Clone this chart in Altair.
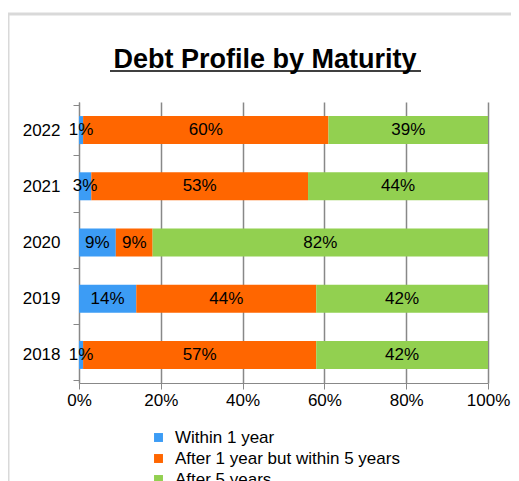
import altair as alt
import pandas as pd

years = ["2022", "2021", "2020", "2019", "2018"]
series = ["Within 1 year", "After 1 year but within 5 years", "After 5 years"]
within1 = [1, 3, 9, 14, 1]
after1to5 = [60, 53, 9, 44, 57]
after5 = [39, 44, 82, 42, 42]
colors = ["#3C9CF5", "#FF6600", "#92D050"]
x_ticks = [0, 20, 40, 60, 80, 100]
title_text = "Debt Profile by Maturity"

rows = []
for i, y in enumerate(years):
    for j, (s, vals) in enumerate(zip(series, [within1, after1to5, after5])):
        rows.append({"year": y, "series": s, "order": j, "value": vals[i]})
df = pd.DataFrame(rows)
df["label"] = df["value"].astype(str) + "%"

FONT = "Liberation Sans"
FS = 17

base = alt.Chart(df)

bars = base.mark_bar(size=28).encode(
    y=alt.Y("year:N", sort=years, title=None,
            axis=alt.Axis(tickBand="extent", labelFontSize=FS, labelColor="#000",
                          labelFont=FONT, domainColor="#888", tickColor="#888",
                          tickSize=6, labelPadding=13, grid=False)),
    x=alt.X("value:Q", stack="normalize", title=None,
            scale=alt.Scale(domain=[0, 1], nice=False),
            axis=alt.Axis(format=".0%", values=[v / 100 for v in x_ticks],
                          labelFontSize=FS, labelColor="#000", labelFont=FONT,
                          labelFlush=False,
                          grid=True, gridColor="#888", gridWidth=1.5,
                          domainColor="#888", tickColor="#888", tickSize=6,
                          labelPadding=3)),
    color=alt.Color("series:N", sort=series,
                    scale=alt.Scale(domain=series, range=colors),
                    legend=alt.Legend(title=None, orient="none", legendX=71, legendY=327,
                                      symbolType="square", symbolSize=80,
                                      symbolStrokeWidth=0, labelFontSize=FS,
                                      labelFont=FONT, labelColor="#000", labelLimit=0,
                                      rowPadding=3, labelOffset=8)),
    order=alt.Order("order:Q"),
)

labels = base.transform_stack(
    stack="value", groupby=["year"], as_=["v0", "v1"],
    sort=[alt.SortField("order", "ascending")], offset="normalize"
).transform_calculate(mid="(datum.v0 + datum.v1) / 2").mark_text(
    fontSize=FS, font=FONT, color="#000"
).encode(
    y=alt.Y("year:N", sort=years),
    x=alt.X("mid:Q"),
    text="label:N",
)

one = pd.DataFrame({"t": [title_text]})
title = alt.Chart(one).mark_text(
    font=FONT, fontSize=27, fontWeight="bold", color="#000", baseline="alphabetic", align="center"
).encode(x=alt.value(186), y=alt.value(-34), text="t:N")
underline = alt.Chart(one).mark_rule(color="#000", strokeWidth=1.5).encode(
    x=alt.value(31), x2=alt.value(342), y=alt.value(-31)
)
frame_top = alt.Chart(one).mark_rule(color="#d9d9d9", strokeWidth=3).encode(
    x=alt.value(-71), x2=alt.value(440), y=alt.value(-88)
)
frame_left = alt.Chart(one).mark_rule(color="#d9d9d9", strokeWidth=3).encode(
    x=alt.value(-71), y=alt.value(-89), y2=alt.value(390)
)

chart = alt.layer(frame_top, frame_left, bars, labels, title, underline).properties(
    width=409, height=281,
    autosize=alt.AutoSizeParams(type="none"),
    padding={"left": 71, "top": 94, "right": 23, "bottom": 98},
).configure_view(stroke=None)

chart.save("out.html", embed_options={"renderer": "svg", "actions": False})
